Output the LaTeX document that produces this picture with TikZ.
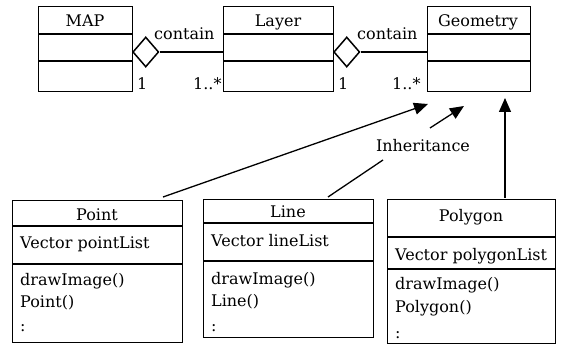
\documentclass[tikz,border=0pt]{standalone}
\usepackage{fontspec}
\setmainfont{DejaVu Serif}
\usetikzlibrary{arrows.meta,shapes.geometric,calc}
\begin{document}
\begin{tikzpicture}[x=1pt,y=-1pt,
  box/.style={draw,line width=1.3pt,anchor=north west,inner sep=0pt},
  txt/.style={font=\fontsize{16}{18}\selectfont,inner sep=0pt,anchor=base west},
  ctxt/.style={font=\fontsize{16}{18}\selectfont,inner sep=0pt,anchor=base},
  ln/.style={line width=1.3pt},
  inh/.style={line width=1.3pt,-{Triangle[length=14pt,width=12pt]}},
  agg/.style={draw,diamond,line width=1.5pt,minimum width=26pt,minimum height=30pt,inner sep=0pt,anchor=west,fill=white}]
\useasboundingbox (0,0) rectangle (566,353);

% ---- top classes
\node[box,minimum width=94pt,minimum height=85pt] (map) at (38,6) {};
\draw[ln] ($(map.north west)+(0,28)$) -- ($(map.north east)+(0,28)$);
\draw[ln] ($(map.north west)+(0,55)$) -- ($(map.north east)+(0,55)$);
\node[ctxt] (mapt) at (85,27) {MAP};

\node[box,minimum width=110pt,minimum height=85pt] (layer) at (223,6) {};
\draw[ln] ($(layer.north west)+(0,28)$) -- ($(layer.north east)+(0,28)$);
\draw[ln] ($(layer.north west)+(0,55)$) -- ($(layer.north east)+(0,55)$);
\node[ctxt] (layert) at (278,27) {Layer};

\node[box,minimum width=103pt,minimum height=85pt] (geom) at (427,6) {};
\draw[ln] ($(geom.north west)+(0,28)$) -- ($(geom.north east)+(0,28)$);
\draw[ln] ($(geom.north west)+(0,55)$) -- ($(geom.north east)+(0,55)$);
\node[ctxt] (geomt) at (478,27) {Geometry};

% ---- aggregations
\node[agg] (d1) at (132,52) {};
\draw[ln] (d1.east) -- (d1.east -| layer.west);
\node[txt] (c1) at (154,40) {contain};
\node[txt] (m1a) at (137,90) {1};
\node[txt] (m1b) at (193,90) {1..*};

\node[agg] (d2) at (333,52) {};
\draw[ln] (d2.east) -- (d2.east -| geom.west);
\node[txt] (c2) at (357,40) {contain};
\node[txt] (m2a) at (338,90) {1};
\node[txt] (m2b) at (392,90) {1..*};

% ---- bottom classes
\node[box,minimum width=170pt,minimum height=142pt] (point) at (12,200) {};
\draw[ln] ($(point.north west)+(0,26)$) -- ($(point.north east)+(0,26)$);
\draw[ln] ($(point.north west)+(0,64)$) -- ($(point.north east)+(0,64)$);
\node[ctxt] (pointt) at (97,221) {Point};
\node[txt] (pointa) at (20,248) {Vector pointList};
\node[txt] (pointm1) at (20,285) {drawImage()};
\node[txt] (pointm2) at (20,307) {Point()};
\node[txt] (pointm3) at (20,331) {:};

\node[box,minimum width=170pt,minimum height=138pt] (line) at (203,199) {};
\draw[ln] ($(line.north west)+(0,24)$) -- ($(line.north east)+(0,24)$);
\draw[ln] ($(line.north west)+(0,62)$) -- ($(line.north east)+(0,62)$);
\node[ctxt] (linet) at (288,218) {Line};
\node[txt] (linea) at (211,246) {Vector lineList};
\node[txt] (linem1) at (211,284) {drawImage()};
\node[txt] (linem2) at (211,306) {Line()};
\node[txt] (linem3) at (211,331) {:};

\node[box,minimum width=168pt,minimum height=144pt] (poly) at (387,199) {};
\draw[ln] ($(poly.north west)+(0,38)$) -- ($(poly.north east)+(0,38)$);
\draw[ln] ($(poly.north west)+(0,70)$) -- ($(poly.north east)+(0,70)$);
\node[ctxt] (polyt) at (471,222) {Polygon};
\node[txt] (polya) at (395,261) {Vector polygonList};
\node[txt] (polym1) at (395,289) {drawImage()};
\node[txt] (polym2) at (395,312) {Polygon()};
\node[txt] (polym3) at (395,338) {:};

% ---- inheritance
\node[ctxt] (inhl) at (423,152) {Inheritance};
\coordinate (ps) at (163,197);
\coordinate (pt) at (428,104);
\coordinate (ls) at (328,197);
\coordinate (lm1) at (383,160);
\coordinate (lm2) at (430,128);
\coordinate (lt) at (464,106);
\coordinate (gs) at (505,198);
\coordinate (gt) at (505,98);
\draw[inh] (ps) -- (pt);
\draw[ln] (ls) -- (lm1);
\draw[inh] (lm2) -- (lt);
\draw[inh] (gs) -- (gt);
\end{tikzpicture}
\end{document}
